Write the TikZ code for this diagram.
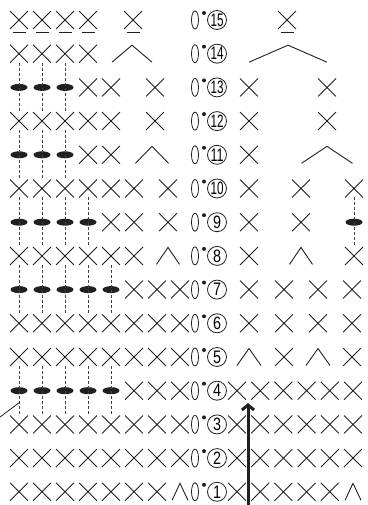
\documentclass[tikz,border=0pt]{standalone}
\usepackage{fontspec}
\usepackage{tikz}
\usetikzlibrary{arrows.meta,shapes.misc,shapes.geometric}
\newfontfamily\numfont{Liberation Sans}
\definecolor{ink}{HTML}{231F20}
\tikzset{
  sc/.style={cross out, draw=ink, line width=0.9pt, minimum size=17pt, inner sep=0pt},
  bob/.style={ellipse, fill=ink, minimum width=17pt, minimum height=7pt, inner sep=0pt},
  chain/.style={ellipse, draw=ink, line width=0.8pt, minimum width=7pt, minimum height=18pt, inner sep=0pt},
  num/.style={circle, draw=ink, line width=0.8pt, minimum size=19pt, inner sep=0pt, font=\numfont},
  long/.style={draw=ink!85, line width=0.9pt, dash pattern=on 3pt off 2pt},
  uline/.style={draw=ink, line width=1.4pt},
  arr/.style={-{Straight Barb[length=5pt,width=12pt]}, line width=3pt, draw=ink},
  pics/dec/.style={code={\draw[ink, line width=0.9pt] (-#1,8.5) -- (0,-8.5) -- (#1,8.5);}},
}
\newcommand\cnum[1]{\ifnum#1>9 \resizebox{13pt}{12.5pt}{#1}\else\resizebox{8pt}{12.5pt}{#1}\fi}

\begin{document}
\begin{tikzpicture}[x=1pt, y=-1pt]
    \useasboundingbox (0,0) rectangle (367,505);
    % left block
    \foreach \k/\cols in {1/{1,...,7},2/{1,...,8},3/{1,...,8},4/{6,7,8},5/{1,...,8},6/{1,...,8},7/{6,7,8},
                          8/{1,...,6},9/{5,6},10/{1,...,6},11/{4,5},12/{1,...,5},13/{4,5},14/{1,...,4},15/{1,...,4}}
      \foreach \i in \cols \node[sc] (x-\k-\i) at ({19+23*(\i-1)},{20+33.7*(15-\k)}) {};
    \foreach \k/\n in {4/5,7/5,9/4,11/3,13/3}
      \foreach \i in {1,...,\n} \node[bob] (b-\k-\i) at ({19+23*(\i-1)},{20+33.7*(15-\k)}) {};
    \node[sc] (x-9-7) at (168,222.2) {};
    \node[sc] (x-10-7) at (168,188.5) {};
    \node[sc] (x-12-6) at (155,121.1) {};
    \node[sc] (x-13-6) at (155,87.4) {};
    \node[sc] (x-15-5) at (133,20) {};
    \pic at (180,491.8) {dec=8};
    \pic at (168,255.9) {dec=11.5};
    \pic at (152,154.8) {dec=16.5};
    \pic at (132,53.7) {dec=20};
    % turning chains and row numbers
    \foreach \k in {1,...,15} {
      \node[chain] (ch-\k) at (195,{20+33.7*(15-\k)}) {};
      \fill[ink] (204,{13+33.7*(15-\k)}) circle (2pt);
      \node[num] (n-\k) at (217,{20+33.7*(15-\k)}) {\cnum{\k}};
    }
    % right block
    \foreach \k/\m in {1/5,2/6,3/6,4/6}
      \foreach \j in {1,...,\m} \node[sc] (rx-\k-\j) at ({237+23.2*(\j-1)},{20+33.7*(15-\k)}) {};
    \pic at (353,491.8) {dec=8};
    \foreach \k in {6,7}
      \foreach \px [count=\j] in {249,284,318,352} \node[sc] (rx-\k-\j) at (\px,{20+33.7*(15-\k)}) {};
    \pic at (249,357) {dec=12};
    \node[sc] (rx-5-2) at (284,357) {};
    \pic at (318,357) {dec=12};
    \node[sc] (rx-5-4) at (352,357) {};
    \node[sc] (rx-8-1) at (249,255.9) {};
    \pic at (301,255.9) {dec=11.5};
    \node[sc] (rx-8-3) at (354,255.9) {};
    \node[sc] (rx-9-1) at (249,222.2) {};
    \node[sc] (rx-9-2) at (301,222.2) {};
    \node[bob] (rb-9-3) at (354,222.2) {};
    \foreach \px [count=\j] in {249,301,354} \node[sc] (rx-10-\j) at (\px,188.5) {};
    \node[sc] (rx-11-1) at (249,154.8) {};
    \pic at (327,154.8) {dec=25.5};
    \foreach \k in {12,13} {
      \node[sc] (rx-\k-1) at (249,{20+33.7*(15-\k)}) {};
      \node[sc] (rx-\k-2) at (327,{20+33.7*(15-\k)}) {};
    }
    \pic at (288,53.7) {dec=39};
    \node[sc] (rx-15-1) at (287,20) {};
    % underlines of row 15
    \foreach \s in {x-15-1,x-15-2,x-15-3,x-15-4,x-15-5,rx-15-1}
      \draw[uline] ([xshift=-6.5pt,yshift=-3.5pt]\s.south) -- ([xshift=6.5pt,yshift=-3.5pt]\s.south);
    % long stitches
    \foreach \k/\n in {4/5,7/5,9/4,11/3,13/3} {
      \pgfmathtruncatemacro\up{\k+1}
      \pgfmathtruncatemacro\dn{\k-1}
      \foreach \i in {1,...,\n} \draw[long] (x-\up-\i.south) -- (x-\dn-\i.north);
    }
    \draw[long] (rx-10-3.south) -- (rx-8-3.north);
    % leader and direction arrow
    \coordinate (lead) at (0,417);
    \coordinate (lead end) at (20,402);
    \draw[ink, line width=0.8pt] (lead) -- (lead end);
    \coordinate (arr foot) at (248,505);
    \coordinate (arr tip) at (248,403);
    \draw[arr] (arr foot) -- (arr tip);
  \end{tikzpicture}
\end{document}
